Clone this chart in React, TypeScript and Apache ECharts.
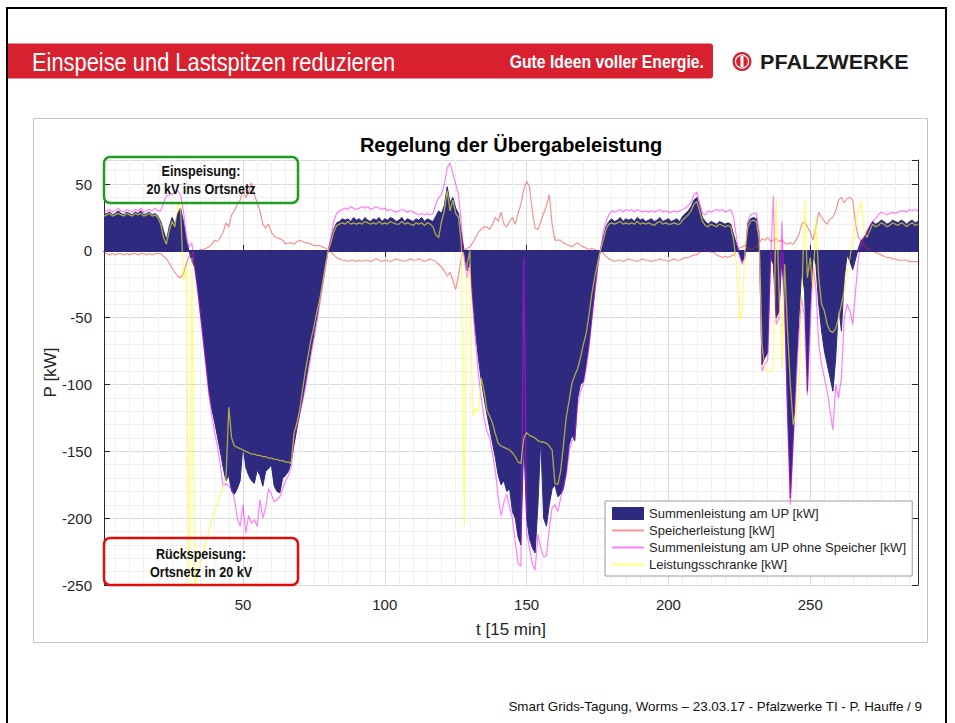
import React, { useEffect, useRef } from "react";
import * as echarts from "echarts";

// Time axis: t = 1 .. 288 (15-minute steps)
const T_MIN = 1;
const T_MAX = 288;
const Y_MIN = -250;
const Y_MAX = 68;

const LEGEND_NAMES = [
  "Summenleistung am UP [kW]",
  "Speicherleistung [kW]",
  "Summenleistung am UP ohne Speicher [kW]",
  "Leistungsschranke [kW]",
];

// Summenleistung am UP [kW], t = 1..288
const SUMME: number[] = [
  27, 28, 29, 27, 28, 30, 28, 27, 29, 28,
  27, 29, 28, 30, 27, 28, 29, 27, 28, 26,
  22, 15, 8, 18, 25, 20, 28, 32, 22, 8,
  0, -8, -12, -28, -47, -66, -85, -105, -118, -128,
  -139, -150, -162, -172, -168, -180, -182, -178, -172, -145,
  -162, -168, -172, -174, -164, -168, -176, -165, -163, -160,
  -176, -180, -181, -170, -168, -165, -158, -145, -133, -122,
  -111, -99, -86, -74, -62, -50, -37, -25, -12, 0,
  8, 16, 21, 22, 24, 23, 24, 22, 25, 23,
  24, 22, 25, 23, 22, 24, 23, 25, 22, 24,
  23, 25, 24, 22, 23, 25, 22, 24, 23, 22,
  24, 23, 25, 22, 24, 23, 22, 26, 30, 28,
  34, 48, 36, 40, 32, 28, 12, 0, -15, -8,
  -35, -60, -80, -97, -110, -122, -133, -144, -155, -168,
  -175, -172, -180, -178, -195, -200, -214, -220, -140, -200,
  -215, -222, -226, -190, -140, -200, -206, -190, -178, -175,
  -184, -182, -178, -165, -145, -138, -142, -110, -100, -98,
  -85, -70, -50, -30, -12, 0, 10, 18, 22, 24,
  22, 23, 25, 22, 24, 23, 24, 22, 25, 23,
  24, 22, 23, 24, 22, 23, 25, 22, 23, 24,
  22, 23, 24, 22, 26, 28, 30, 33, 38, 40,
  33, 25, 22, 20, 22, 21, 20, 22, 21, 20,
  21, 20, 12, 5, -2, -8, -4, 20, 24, 25,
  24, 10, -85, -80, -76, -5, -10, -50, -45, -5,
  -40, -120, -185, -140, -90, -50, -15, -30, -105, -40,
  -5, -10, -40, -60, -75, -85, -95, -105, -80, -40,
  -60, -20, -3, -8, -14, -6, 2, 8, 10, 14,
  18, 22, 20, 21, 23, 22, 20, 21, 23, 22,
  21, 23, 22, 20, 22, 23, 21, 22,
];

// Speicherleistung [kW]
const SPEICHER: number[] = [
  -2, -2, -3, -2, -3, -2, -2, -3, -2, -3,
  -2, -2, -3, -2, -2, -3, -2, -3, -2, -2,
  -2, -4, -6, -9, -13, -16, -19, -20, -17, -10,
  -4, -2, 0, 0, 1, 1, 2, 3, 5, 8,
  7, 10, 14, 21, 18, 27, 30, 35, 38, 46,
  40, 44, 51, 42, 36, 30, 20, 17, 20, 14,
  11, 10, 9, 8, 5, 6, 6, 5, 7, 8,
  7, 6, 6, 5, 4, 4, 4, 3, 2, 1,
  -1, -3, -5, -6, -7, -7, -8, -7, -7, -8,
  -7, -8, -7, -7, -8, -7, -6, -7, -8, -7,
  -7, -8, -7, -6, -7, -7, -8, -7, -6, -7,
  -7, -6, -7, -8, -7, -6, -7, -8, -10, -12,
  -15, -19, -16, -22, -29, -18, -5, 0, 2, 3,
  6, 10, 14, 16, 18, 18, 16, 20, 25, 22,
  29, 20, 18, 22, 25, 20, 28, 35, 46, 52,
  48, 30, 17, 16, 22, 28, 34, 42, 20, 8,
  8, 8, 6, 5, 4, 3, 5, 6, 4, 3,
  2, 1, 2, 1, 0, 0, -2, -4, -6, -7,
  -8, -7, -7, -8, -7, -6, -7, -7, -8, -7,
  -6, -7, -7, -8, -7, -7, -6, -7, -7, -8,
  -7, -6, -7, -7, -6, -5, -5, -4, -3, -3,
  -1, 0, 1, 0, -1, -1, -3, -4, -5, -4,
  -5, -4, -3, 0, 2, 3, 4, 2, 1, 2,
  3, 6, 9, 8, 10, 7, 8, 9, 7, 8,
  6, 5, 6, 5, 8, 12, 20, 22, 18, 14,
  8, 18, 29, 25, 22, 20, 24, 25, 30, 38,
  40, 36, 39, 40, 38, 20, 10, 7, 4, 2,
  1, 0, -1, -2, -3, -4, -5, -5, -6, -6,
  -7, -7, -7, -7, -8, -8, -8, -8,
];

// Summenleistung am UP ohne Speicher [kW]
const OHNE_SPEICHER: number[] = [
  29, 30, 31, 29, 30, 32, 30, 29, 31, 30,
  29, 31, 30, 32, 29, 30, 31, 30, 32, 30,
  30, 36, 41, 42, 42, 44, 45, 42, 30, 12,
  3, 6, -14, -30, -48, -68, -88, -108, -123, -136,
  -146, -160, -176, -174, -176, -178, -186, -200, -206, -190,
  -211, -198, -204, -201, -206, -186, -200, -192, -178, -182,
  -188, -186, -184, -178, -172, -168, -162, -140, -130, -122,
  -113, -102, -90, -78, -66, -54, -41, -28, -14, 0,
  10, 22, 28, 30, 31, 32, 31, 33, 32, 31,
  32, 33, 32, 33, 31, 32, 33, 32, 31, 32,
  30, 31, 30, 29, 30, 31, 30, 29, 30, 29,
  28, 27, 28, 27, 28, 27, 28, 35, 40, 42,
  50, 62, 66, 58, 50, 42, 20, -5, -20, -10,
  -40, -68, -92, -110, -125, -135, -140, -152, -165, -185,
  -198, -188, -182, -192, -200, -218, -234, -236, -5, -210,
  -222, -234, -239, -212, -222, -229, -228, -208, -192, -190,
  -195, -185, -176, -168, -150, -142, -140, -115, -105, -100,
  -88, -72, -52, -32, -14, 0, 14, 22, 27, 30,
  29, 30, 31, 29, 31, 30, 31, 29, 31, 30,
  29, 30, 29, 30, 29, 30, 31, 29, 30, 29,
  29, 30, 29, 30, 31, 32, 34, 36, 42, 44,
  36, 28, 27, 30, 29, 30, 31, 30, 31, 29,
  30, 31, 25, 10, -3, -10, -6, 22, 27, 28,
  28, 15, -90, -85, -82, -10, 41, -55, -50, 22,
  -45, -125, -190, -145, -100, -62, -35, -50, -108, -55,
  -12, -28, -70, -85, -95, -105, -120, -134, -100, -110,
  -95, -50, -40, -45, -55, -30, -5, 5, 10, 15,
  19, 22, 24, 27, 29, 28, 27, 28, 29, 28,
  29, 30, 30, 29, 31, 30, 31, 30,
];

// Leistungsschranke [kW]
const SCHRANKE: number[] = [
  26, 27, 28, 26, 27, 28, 27, 26, 28, 27,
  26, 28, 27, 28, 26, 27, 28, 26, 27, 25,
  20, 10, 5, 15, 22, 18, 36, 32, -22, -12,
  -250, -5, -250, -242, -234, -226, -218, -210, -202, -195,
  -188, -182, -176, -171, -117, -140, -146, -147, -148, -149,
  -150, -151, -152, -152, -153, -153, -154, -154, -155, -155,
  -156, -156, -157, -157, -158, -158, -159, -136, -129, -119,
  -104, -90, -78, -66, -57, -46, -37, -25, -12, 0,
  6, 14, 19, 20, 21, 20, 22, 20, 21, 20,
  21, 20, 22, 21, 20, 21, 20, 22, 20, 21,
  20, 22, 21, 20, 20, 22, 20, 21, 20, 19,
  21, 20, 21, 19, 21, 20, 18, 12, 10, 22,
  30, 45, 30, 38, 28, 25, 5, -205, -10, 0,
  -124, -118, -120, -95, -105, -119, -124, -129, -137, -144,
  -146, -147, -148, -149, -151, -154, -158, -159, -140, -136,
  -138, -139, -140, -142, -143, -143, -144, -146, -149, -174,
  -175, -165, -145, -124, -112, -99, -93, -88, -80, -70,
  -62, -48, -32, -20, -10, 0, 8, 16, 20, 21,
  20, 21, 22, 20, 21, 20, 21, 20, 22, 20,
  21, 20, 21, 20, 19, 21, 22, 20, 21, 20,
  20, 21, 20, 20, 23, 25, 27, 30, 35, 37,
  30, 22, 19, 18, 20, 19, 18, 20, 19, 18,
  19, 18, 8, -10, -52, -45, 0, 18, 22, 23,
  22, 8, -70, -88, -90, -90, -88, 40, -30, -88,
  -10, -60, -100, -130, -120, -106, -40, 38, -20, -5,
  -30, 25, -20, -40, -45, -55, -60, -61, -58, -50,
  -40, -30, -15, -5, 8, 20, 30, 37, 15, 10,
  15, 20, 18, 19, 21, 20, 18, 19, 21, 20,
  19, 21, 20, 18, 20, 21, 19, 20,
];

const NAVY = "#2e2a80";
const AXIS_COLOR = "#262626";
const FONT = 'Arial, "Liberation Sans", Helvetica, sans-serif';

const toPairs = (arr: number[]) => arr.map((v, i) => [T_MIN + i, v]);

export default function App() {
  const ref = useRef<HTMLDivElement | null>(null);

  useEffect(() => {
    document.body.style.margin = "0";
    if (!ref.current) return;
    const chart = echarts.init(ref.current, undefined, { renderer: "svg" });

    const axisCommon = {
      type: "value" as const,
      axisLine: { show: true, lineStyle: { color: AXIS_COLOR, width: 1 } },
      axisTick: { show: true, inside: true, length: 6, lineStyle: { color: AXIS_COLOR } },
    };

    const hiddenSymbol = { opacity: 0 };

    const option: any = {
      animation: false,
      backgroundColor: "#ffffff",
      grid: { left: 104, right: 37, top: 160, bottom: 138, containLabel: false },
      legend: {
        orient: "vertical",
        left: 605,
        top: 501,
        padding: [6, 6, 5, 6],
        itemGap: 4,
        itemWidth: 32,
        itemHeight: 13,
        backgroundColor: "#ffffff",
        borderColor: "#9a9a9a",
        borderWidth: 1,
        textStyle: { fontFamily: FONT, fontSize: 13, color: AXIS_COLOR },
        data: [
          { name: LEGEND_NAMES[0], icon: "rect" },
          { name: LEGEND_NAMES[1], itemStyle: hiddenSymbol },
          { name: LEGEND_NAMES[2], itemStyle: hiddenSymbol },
          { name: LEGEND_NAMES[3], itemStyle: hiddenSymbol },
        ],
        selectedMode: false,
      },
      xAxis: [
        {
          ...axisCommon,
          min: T_MIN,
          max: T_MAX,
          position: "bottom",
          name: "t [15 min]",
          nameLocation: "middle",
          nameGap: 36,
          nameMoveOverlap: false,
          nameTextStyle: { fontFamily: FONT, fontSize: 17, color: AXIS_COLOR },
          axisLabel: {
            show: true,
            margin: 12,
            fontFamily: FONT,
            fontSize: 15,
            color: AXIS_COLOR,
            showMinLabel: false,
            showMaxLabel: false,
          },
          splitLine: { show: true, lineStyle: { color: "#dadada", width: 1 } },
          minorTick: { show: false, splitNumber: 10 },
          minorSplitLine: { show: true, lineStyle: { color: "#f0f0f0", width: 1 } },
        },
        {
          ...axisCommon,
          min: T_MIN,
          max: T_MAX,
          position: "top",
          axisLabel: { show: false },
          splitLine: { show: false },
        },
      ],
      yAxis: [
        {
          ...axisCommon,
          min: Y_MIN,
          max: Y_MAX,
          interval: 50,
          position: "left",
          name: "P [kW]",
          nameLocation: "middle",
          nameGap: 45,
          nameMoveOverlap: false,
          nameRotate: 90,
          nameTextStyle: { fontFamily: FONT, fontSize: 17, color: AXIS_COLOR },
          axisLabel: {
            show: true,
            margin: 12,
            fontFamily: FONT,
            fontSize: 15,
            color: AXIS_COLOR,
            showMaxLabel: false,
          },
          splitLine: { show: true, lineStyle: { color: "#dadada", width: 1 } },
          minorTick: { show: false, splitNumber: 5 },
          minorSplitLine: { show: true, lineStyle: { color: "#f0f0f0", width: 1 } },
        },
        {
          ...axisCommon,
          min: Y_MIN,
          max: Y_MAX,
          interval: 50,
          position: "right",
          axisLabel: { show: false },
          splitLine: { show: false },
        },
      ],
      series: [
        {
          name: LEGEND_NAMES[0],
          type: "line",
          data: toPairs(SUMME),
          symbol: "none",
          color: NAVY,
          lineStyle: { color: NAVY, width: 1 },
          areaStyle: { color: NAVY, opacity: 1 },
          z: 2,
          markLine: {
            silent: true,
            symbol: ["none", "none"],
            label: { show: false },
            lineStyle: { color: NAVY, width: 2, type: "solid" },
            data: [{ yAxis: 0 }],
          },
        },
        {
          name: LEGEND_NAMES[1],
          type: "line",
          data: toPairs(SPEICHER),
          symbol: "none",
          color: "#ee2a2a",
          lineStyle: { color: "#ee2a2a", width: 1.2, opacity: 0.5 },
          z: 3,
        },
        {
          name: LEGEND_NAMES[2],
          type: "line",
          data: toPairs(OHNE_SPEICHER),
          symbol: "none",
          color: "#ff00ff",
          lineStyle: { color: "#ff00ff", width: 1.2, opacity: 0.5 },
          z: 4,
        },
        {
          name: LEGEND_NAMES[3],
          type: "line",
          data: toPairs(SCHRANKE),
          symbol: "none",
          color: "#ffff20",
          lineStyle: { color: "#ffff20", width: 1.3, opacity: 0.6 },
          z: 5,
        },
      ],
      graphic: [
        // slide frame
        {
          type: "rect",
          z: -20,
          shape: { x: 7, y: 8, width: 939, height: 730 },
          style: { fill: "none", stroke: "#000000", lineWidth: 2 },
        },
        // header bar
        {
          type: "rect",
          z: -10,
          shape: { x: 8, y: 43.5, width: 705, height: 35, r: [0, 3, 3, 0] },
          style: { fill: "#d9202f" },
        },
        {
          type: "text",
          z: 10,
          x: 32,
          y: 62,
          scaleX: 0.875,
          style: {
            text: "Einspeise und Lastspitzen reduzieren",
            fill: "#ffffff",
            font: `25px ${FONT}`,
            textVerticalAlign: "middle",
          },
        },
        {
          type: "text",
          z: 10,
          x: 704,
          y: 61,
          scaleX: 0.83,
          style: {
            text: "Gute Ideen voller Energie.",
            fill: "#ffffff",
            font: `bold 19px ${FONT}`,
            textAlign: "right",
            textVerticalAlign: "middle",
          },
        },
        // logo
        {
          type: "circle",
          z: 10,
          shape: { cx: 742, cy: 61.5, r: 9.5 },
          style: { fill: "#d9202f" },
        },
        {
          type: "circle",
          z: 11,
          shape: { cx: 742, cy: 61.5, r: 6.5 },
          style: { fill: "none", stroke: "#ffffff", lineWidth: 1.2 },
        },
        {
          type: "rect",
          z: 11,
          shape: { x: 740.5, y: 56, width: 3, height: 11 },
          style: { fill: "#ffffff" },
        },
        {
          type: "text",
          z: 10,
          x: 760,
          y: 62,
          scaleX: 1.08,
          style: {
            text: "PFALZWERKE",
            fill: "#1a1a1a",
            font: `bold 20px ${FONT}`,
            textVerticalAlign: "middle",
          },
        },
        // chart frame
        {
          type: "rect",
          z: -10,
          shape: { x: 33.5, y: 118.5, width: 894, height: 524 },
          style: { fill: "#ffffff", stroke: "#c4c4c4", lineWidth: 1 },
        },
        // chart title
        {
          type: "text",
          z: 10,
          x: 511,
          y: 145,
          style: {
            text: "Regelung der Übergabeleistung",
            fill: "#000000",
            font: `bold 20px ${FONT}`,
            textAlign: "center",
            textVerticalAlign: "middle",
          },
        },
        // annotation: Einspeisung
        {
          type: "rect",
          z: 50,
          shape: { x: 104, y: 157, width: 194, height: 46, r: 6 },
          style: { fill: "none", stroke: "#1f9e1f", lineWidth: 2.5 },
        },
        {
          type: "text",
          z: 51,
          x: 201,
          y: 171,
          scaleX: 0.9,
          style: {
            text: "Einspeisung:",
            fill: "#111111",
            font: `bold 14px ${FONT}`,
            textAlign: "center",
            textVerticalAlign: "middle",
          },
        },
        {
          type: "text",
          z: 51,
          x: 201,
          y: 189,
          scaleX: 0.9,
          style: {
            text: "20 kV ins Ortsnetz",
            fill: "#111111",
            font: `bold 14px ${FONT}`,
            textAlign: "center",
            textVerticalAlign: "middle",
          },
        },
        // annotation: Rückspeisung
        {
          type: "rect",
          z: 50,
          shape: { x: 104, y: 538, width: 194, height: 47, r: 6 },
          style: { fill: "none", stroke: "#e00d0d", lineWidth: 2.5 },
        },
        {
          type: "text",
          z: 51,
          x: 201,
          y: 554,
          scaleX: 0.9,
          style: {
            text: "Rückspeisung:",
            fill: "#111111",
            font: `bold 14px ${FONT}`,
            textAlign: "center",
            textVerticalAlign: "middle",
          },
        },
        {
          type: "text",
          z: 51,
          x: 201,
          y: 572,
          scaleX: 0.9,
          style: {
            text: "Ortsnetz in 20 kV",
            fill: "#111111",
            font: `bold 14px ${FONT}`,
            textAlign: "center",
            textVerticalAlign: "middle",
          },
        },
        // footer
        {
          type: "text",
          z: 10,
          x: 922,
          y: 706,
          style: {
            text: "Smart Grids-Tagung, Worms – 23.03.17 - Pfalzwerke TI - P. Hauffe / 9",
            fill: "#111111",
            font: `13.4px ${FONT}`,
            textAlign: "right",
            textVerticalAlign: "middle",
          },
        },
      ],
    };

    chart.setOption(option);
    return () => {
      chart.dispose();
    };
  }, []);

  return <div ref={ref} style={{ width: 955, height: 723 }} />;
}
